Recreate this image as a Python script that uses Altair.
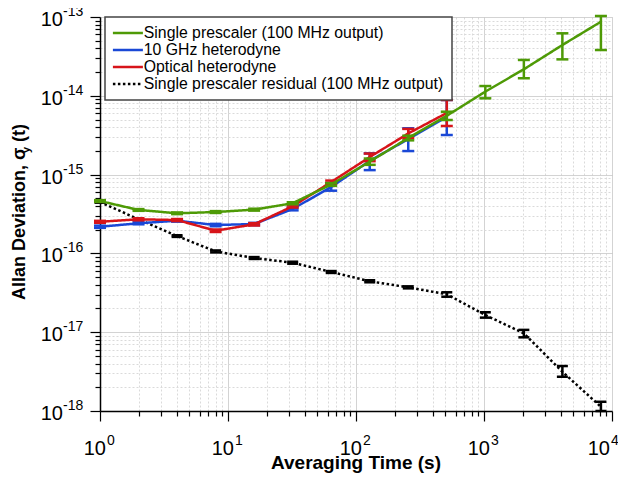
import altair as alt
import pandas as pd

# ---------------- data ----------------
tau = [1, 2, 4, 8, 16, 32, 64, 128, 256, 512, 1024, 2048, 4096, 8192]
tau_het = [1, 2, 4, 8, 16, 32, 64, 128, 256, 512]

single_v = [4.62e-16, 3.56e-16, 3.23e-16, 3.35e-16, 3.59e-16, 4.33e-16, 7.5e-16,
            1.46e-15, 2.91e-15, 5.58e-15, 1.13e-14, 2.17e-14, 4.41e-14, 8.71e-14]
single_lo = [4.50e-16, 3.47e-16, 3.15e-16, 3.26e-16, 3.49e-16, 4.20e-16, 7.2e-16,
             1.33e-15, 2.72e-15, 4.93e-15, 9.29e-15, 1.67e-14, 2.90e-14, 3.81e-14]
single_hi = [4.74e-16, 3.65e-16, 3.31e-16, 3.44e-16, 3.69e-16, 4.46e-16, 7.8e-16,
             1.60e-15, 3.12e-15, 6.28e-15, 1.33e-14, 2.85e-14, 6.21e-14, 1.03e-13]

ghz_v = [2.18e-16, 2.41e-16, 2.60e-16, 2.29e-16, 2.36e-16, 3.66e-16, 6.97e-16,
         1.49e-15, 2.83e-15, 5.38e-15]
ghz_lo = [2.11e-16, 2.34e-16, 2.53e-16, 2.21e-16, 2.28e-16, 3.52e-16, 6.25e-16,
          1.14e-15, 1.99e-15, 3.18e-15]
ghz_hi = [2.25e-16, 2.48e-16, 2.67e-16, 2.37e-16, 2.44e-16, 3.80e-16, 7.8e-16,
          1.86e-15, 3.87e-15, 8.85e-15]

opt_v = [2.52e-16, 2.71e-16, 2.65e-16, 1.94e-16, 2.34e-16, 3.96e-16, 8.05e-16,
         1.67e-15, 3.33e-15, 6.05e-15]
opt_lo = [2.45e-16, 2.63e-16, 2.57e-16, 1.87e-16, 2.26e-16, 3.82e-16, 7.7e-16,
          1.48e-15, 2.90e-15, 4.14e-15]
opt_hi = [2.59e-16, 2.79e-16, 2.73e-16, 2.01e-16, 2.42e-16, 4.10e-16, 8.4e-16,
          1.85e-15, 3.80e-15, 8.85e-15]

res_v = [4.49e-16, 2.71e-16, 1.66e-16, 1.06e-16, 8.74e-17, 7.62e-17, 5.81e-17,
         4.43e-17, 3.71e-17, 3.03e-17, 1.65e-17, 9.68e-18, 3.15e-18, 1.13e-18]
res_lo = [4.40e-16, 2.65e-16, 1.62e-16, 1.03e-16, 8.5e-17, 7.4e-17, 5.65e-17,
          4.3e-17, 3.6e-17, 2.82e-17, 1.53e-17, 8.61e-18, 2.72e-18, 1.0e-18]
res_hi = [4.58e-16, 2.77e-16, 1.70e-16, 1.09e-16, 8.98e-17, 7.84e-17, 5.97e-17,
          4.56e-17, 3.82e-17, 3.21e-17, 1.79e-17, 1.07e-17, 3.72e-18, 1.31e-18]

series_names = ["Single prescaler (100 MHz output)", "10 GHz heterodyne",
                "Optical heterodyne", "Single prescaler residual (100 MHz output)"]

x_decades = [1, 10, 100, 1000, 10000]
x_exp = ["0", "1", "2", "3", "4"]
y_decades = [1e-13, 1e-14, 1e-15, 1e-16, 1e-17, 1e-18]
y_exp = ["-13", "-14", "-15", "-16", "-17", "-18"]

# ---------------- styles ----------------
colors = ["#4e9a06", "#1a48d6", "#d7141a", "#000000"]
dashes = [[1, 0], [1, 0], [1, 0], [2.5, 2.5]]
FONT = "Liberation Sans"
W, H = 512, 394


def frame(t, v, lo, hi, name):
    return pd.DataFrame({"tau": t, "v": v, "lo": lo, "hi": hi, "series": name})


frames = {
    series_names[0]: frame(tau, single_v, single_lo, single_hi, series_names[0]),
    series_names[1]: frame(tau_het, ghz_v, ghz_lo, ghz_hi, series_names[1]),
    series_names[2]: frame(tau_het, opt_v, opt_lo, opt_hi, series_names[2]),
    series_names[3]: frame(tau, res_v, res_lo, res_hi, series_names[3]),
}
color_of = dict(zip(series_names, colors))

decade_test = "abs(log(datum.value)/LN10 - round(log(datum.value)/LN10)) < 0.001"
x_vals = [m * 10 ** k for k in range(0, 4) for m in range(1, 10)] + [10000]
y_vals = [float(f"{m}e{k}") for k in range(-18, -13) for m in range(1, 10)] + [1e-13]


def make_axis(vals):
    return alt.Axis(
        values=vals, labels=False, grid=True,
        domainColor="black", domainWidth=1.5,
        tickColor="black", tickWidth=1.2,
        tickSize={"condition": {"test": decade_test, "value": 10}, "value": 5},
        gridColor={"condition": {"test": decade_test, "value": "#c4c4c4"}, "value": "#dadada"},
        gridDash={"condition": {"test": decade_test, "value": [1, 0]}, "value": [2, 2]},
        gridWidth=1,
    )


xscale = alt.Scale(type="log", domain=[1, 10000], nice=False)
yscale = alt.Scale(type="log", domain=[1e-18, 1e-13], nice=False)
xaxis = make_axis(x_vals)
yaxis = make_axis(y_vals)


def X(field):
    return alt.X(f"{field}:Q", scale=xscale, axis=xaxis, title=None)


def Y(field):
    return alt.Y(f"{field}:Q", scale=yscale, axis=yaxis, title=None)


legend = alt.Legend(
    title=None, orient="none", legendX=5, legendY=0,
    padding=8, rowPadding=0, fillColor="white", strokeColor="#444444",
    labelFont=FONT, labelFontSize=15.8, labelColor="black", labelLimit=400,
    labelOffset=8, symbolType="M-3,0H3", symbolSize=100, symbolOffset=7,
    symbolStrokeWidth=2.5,
)
cscale = alt.Scale(domain=series_names, range=colors)
dscale = alt.Scale(domain=series_names, range=dashes)

layers = []
for name in [series_names[3], series_names[1], series_names[2], series_names[0]]:
    df = frames[name]
    c = color_of[name]
    base = alt.Chart(df)
    line = base.mark_line(strokeWidth=2.5).encode(
        x=X("tau"), y=Y("v"),
        color=alt.Color("series:N", scale=cscale, legend=legend),
        strokeDash=alt.StrokeDash("series:N", scale=dscale, legend=legend),
    )
    rule = base.mark_rule(strokeWidth=2.5, color=c).encode(
        x=X("tau"), y=Y("lo"), y2="hi:Q")
    capsize = 144 if name != series_names[3] else 121
    caps = base.transform_fold(["lo", "hi"], as_=["end", "val"]).mark_point(
        shape="stroke", size=capsize, strokeWidth=2.5, color=c, opacity=1, filled=False
    ).encode(x=X("tau"), y=Y("val"))
    layers += [line, rule, caps]

# tick labels (10 with superscript exponents)
xlab = pd.DataFrame({"tau": x_decades, "exp": x_exp})
ylab = pd.DataFrame({"v": y_decades, "exp": y_exp})

xlab_inner = alt.Chart(xlab).transform_filter("datum.tau < 10000")
xlab_last = alt.Chart(xlab).transform_filter("datum.tau >= 10000")

x_label_layers = []
for src, shift in [(xlab_inner, 0), (xlab_last, -8)]:
    x_label_layers.append(src.mark_text(text="10", align="right", baseline="alphabetic",
                                        dx=6 + shift, fontSize=20, font=FONT,
                                        color="black").encode(x=X("tau"), y=alt.value(H + 44)))
    x_label_layers.append(src.mark_text(align="left", baseline="alphabetic", dx=7 + shift,
                                        fontSize=14, font=FONT, color="black").encode(
        x=X("tau"), y=alt.value(H + 34), text="exp:N"))

yl_base = alt.Chart(ylab).mark_text(text="10", align="right", baseline="alphabetic",
                                    dy=9, fontSize=20, font=FONT, color="black").encode(
    y=Y("v"), x=alt.value(-37))
yl_exp = alt.Chart(ylab).mark_text(align="left", baseline="alphabetic", dy=-1,
                                   fontSize=14, font=FONT, color="black").encode(
    y=Y("v"), x=alt.value(-37), text="exp:N")

one = alt.Data(values=[{"a": 0}])
x_title = alt.Chart(one).mark_text(text="Averaging Time (s)", fontSize=19, fontWeight="bold",
                                   font=FONT, align="center", baseline="alphabetic",
                                   color="black").encode(x=alt.value(W / 2), y=alt.value(452))
y_title1 = alt.Chart(one).mark_text(text="Allan Deviation, σ", fontSize=18, fontWeight="bold",
                                    font=FONT, align="left", baseline="alphabetic", angle=270,
                                    color="black").encode(x=alt.value(-75), y=alt.value(283))
y_title2 = alt.Chart(one).mark_text(text="y", fontSize=11, fontWeight="bold",
                                    font=FONT, align="left", baseline="alphabetic", angle=270,
                                    color="black").encode(x=alt.value(-70.5), y=alt.value(136))
y_title3 = alt.Chart(one).mark_text(text="(t)", fontSize=18, fontWeight="bold",
                                    font=FONT, align="left", baseline="alphabetic", angle=270,
                                    color="black").encode(x=alt.value(-75), y=alt.value(125))

chart = alt.layer(*layers, *x_label_layers, yl_base, yl_exp,
                  x_title, y_title1, y_title2, y_title3).properties(
    width=W, height=H,
    autosize=alt.AutoSizeParams(type="none"),
    padding={"left": 92, "top": 9, "right": 6, "bottom": 62},
).configure_view(strokeWidth=0).configure_legend(strokeWidth=1.5)

chart.save("out.html", embed_options={"renderer": "svg", "actions": False})
